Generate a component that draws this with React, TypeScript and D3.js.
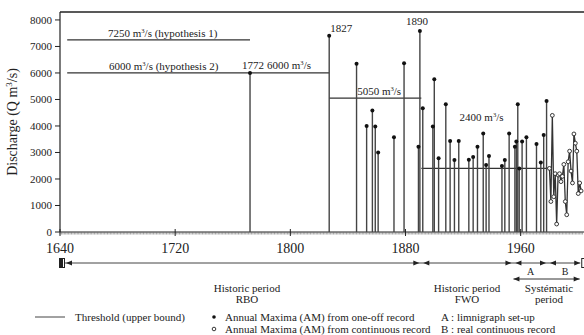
import React, { useEffect, useRef } from 'react';
import * as d3 from 'd3';

// One-off record annual maxima (historic floods)
const oneOffYears = [1772, 1827, 1846, 1853, 1857, 1859, 1861, 1872, 1879, 1889, 1890, 1892, 1899, 1900, 1903, 1908, 1911, 1914, 1917, 1924, 1927, 1930, 1934, 1936, 1938, 1947, 1949, 1952, 1956, 1957, 1958, 1959, 1961, 1964, 1971, 1974, 1976, 1978];
const oneOffValues = [6000, 7400, 6350, 4000, 4580, 3980, 3000, 3570, 6370, 3220, 7580, 4670, 3980, 5760, 2780, 4820, 3430, 2720, 3430, 2730, 2830, 3220, 3720, 2530, 2870, 2490, 2720, 3720, 3220, 3410, 4820, 2400, 3410, 3570, 3320, 2620, 3660, 4940];

// Continuous record annual maxima
const contYears = [1980, 1981, 1982, 1983, 1984, 1985, 1986, 1987, 1988, 1989, 1990, 1991, 1992, 1993, 1994, 1995, 1996, 1997, 1998, 1999, 2000, 2001, 2002];
const contValues = [2400, 1150, 4400, 1330, 2200, 300, 2150, 2200, 1900, 2100, 2550, 1150, 650, 2650, 3050, 2300, 1850, 3700, 3350, 3050, 1450, 1850, 1550];

// Perception thresholds
const thresholdValues = [7250, 6000, 5050, 2400];
const thresholdStart = [1645, 1645, 1827, 1891];
const thresholdEnd = [1772, 1827, 1891, 1980];

// Periods along the bottom time line
const periodBounds = [1640, 1891, 1955, 1979, 2000];

const yTicks = [0, 1000, 2000, 3000, 4000, 5000, 6000, 7000, 8000];
const xTicks = [1640, 1720, 1800, 1880, 1960];

const FONT = "'Liberation Serif', 'Times New Roman', serif";

const App = () => {
  const svgRef = useRef<SVGSVGElement | null>(null);

  useEffect(() => {
    if (!svgRef.current) return;
    const width = 584;
    const height = 335;
    const svg = d3.select(svgRef.current);
    svg.attr('width', width).attr('height', height);
    svg.selectAll('*').remove();

    const x = d3.scaleLinear().domain([1640, 2004]).range([60, 584]);
    const y = d3.scaleLinear().domain([0, 8300]).range([232, 12]);
    const ink = '#222';

    const txt = (px: number, py: number, s: string, size = 11, anchor = 'start') =>
      svg.append('text')
        .attr('x', px).attr('y', py)
        .attr('text-anchor', anchor)
        .attr('fill', ink)
        .style('font-family', FONT)
        .style('font-size', `${size}px`)
        .text(s);

    // "N m3/s" with superscript
    const flowLabel = (px: number, py: number, pre: string, post = '', size = 11, anchor = 'start') => {
      const t = svg.append('text')
        .attr('x', px).attr('y', py)
        .attr('text-anchor', anchor)
        .attr('fill', ink)
        .style('font-family', FONT)
        .style('font-size', `${size}px`);
      t.append('tspan').text(`${pre} m`);
      t.append('tspan').attr('dy', -4).style('font-size', `${size * 0.6}px`).text('3');
      t.append('tspan').attr('dy', 4).text(`/s${post}`);
      return t;
    };

    // frame: top line and left axis
    svg.append('line').attr('x1', 60).attr('x2', width).attr('y1', 12).attr('y2', 12)
      .attr('stroke', ink).attr('stroke-width', 1.6);
    svg.append('line').attr('x1', 60).attr('x2', 60).attr('y1', 12).attr('y2', y(0))
      .attr('stroke', ink).attr('stroke-width', 1.2);

    // y ticks
    yTicks.forEach(t => {
      svg.append('line').attr('x1', 55).attr('x2', 60).attr('y1', y(t)).attr('y2', y(t))
        .attr('stroke', ink).attr('stroke-width', 1);
      txt(52, y(t) + 4, String(t), 11, 'end');
    });

    // y label
    const yl = svg.append('text')
      .attr('transform', `translate(17,${(y(0) + y(8300)) / 2}) rotate(-90)`)
      .attr('text-anchor', 'middle')
      .attr('fill', ink)
      .style('font-family', FONT)
      .style('font-size', '14px');
    yl.append('tspan').text('Discharge (Q m');
    yl.append('tspan').attr('dy', -5).style('font-size', '9px').text('3');
    yl.append('tspan').attr('dy', 5).text('/s)');

    // x axis baseline with yearly minor ticks
    svg.append('line').attr('x1', 60).attr('x2', width).attr('y1', y(0)).attr('y2', y(0))
      .attr('stroke', ink).attr('stroke-width', 1.2);
    d3.range(1640, 2004).forEach(yr => {
      svg.append('line').attr('x1', x(yr)).attr('x2', x(yr)).attr('y1', y(0)).attr('y2', y(0) + 2.5)
        .attr('stroke', '#666').attr('stroke-width', 0.6);
    });
    xTicks.forEach(t => {
      svg.append('line').attr('x1', x(t)).attr('x2', x(t)).attr('y1', y(0) - 3).attr('y2', y(0) + 4)
        .attr('stroke', ink).attr('stroke-width', 1);
      txt(x(t), 253, String(t), 14, 'middle');
    });

    // thresholds
    thresholdValues.forEach((v, i) => {
      svg.append('line')
        .attr('x1', x(thresholdStart[i])).attr('x2', x(thresholdEnd[i]))
        .attr('y1', y(v)).attr('y2', y(v))
        .attr('stroke', '#333').attr('stroke-width', 1.2);
    });

    // one-off stems
    oneOffYears.forEach((yr, i) => {
      svg.append('line')
        .attr('x1', x(yr)).attr('x2', x(yr))
        .attr('y1', y(0)).attr('y2', y(oneOffValues[i]))
        .attr('stroke', '#444').attr('stroke-width', 1.4);
    });
    oneOffYears.forEach((yr, i) => {
      svg.append('circle').attr('cx', x(yr)).attr('cy', y(oneOffValues[i])).attr('r', 2)
        .attr('fill', '#111');
    });

    // continuous record
    const line = d3.line<number>()
      .x((_, i) => x(contYears[i]))
      .y(d => y(d));
    svg.append('path').datum(contValues).attr('d', line)
      .attr('fill', 'none').attr('stroke', '#333').attr('stroke-width', 1.3);
    contYears.forEach((yr, i) => {
      svg.append('circle').attr('cx', x(yr)).attr('cy', y(contValues[i])).attr('r', 1.9)
        .attr('fill', '#fff').attr('stroke', '#222').attr('stroke-width', 0.9);
    });

    // threshold / event annotations
    flowLabel(108, y(7250) - 3, '7250', '  (hypothesis 1)', 11);
    flowLabel(109, y(6000) - 3, '6000', '  (hypothesis 2)', 11);
    txt(x(1772) - 8, y(6000) - 4, '1772', 11);
    flowLabel(x(1772) + 17, y(6000) - 4, '6000', '', 11);
    txt(x(1827) + 1, y(7400) - 4, '1827', 11);
    txt(x(1890) - 3, y(7580) - 6, '1890', 11, 'middle');
    flowLabel(x(1827) + 28, y(5050) - 3, '5050', '', 11);
    flowLabel(x(1903) + 21, y(4200), '2400', '', 11);

    // bottom time line
    const tl = 263;
    svg.append('line').attr('x1', x(1640)).attr('x2', x(periodBounds[periodBounds.length - 1]) + 2)
      .attr('y1', tl).attr('y2', tl).attr('stroke', '#444').attr('stroke-width', 1);
    const arrow = (tip: number, dir: number, yy: number) => {
      svg.append('path')
        .attr('d', `M${tip},${yy} L${tip - dir * 6},${yy - 2.5} L${tip - dir * 6},${yy + 2.5} Z`)
        .attr('fill', ink);
    };
    svg.append('rect').attr('x', x(1640) - 1).attr('y', tl - 5).attr('width', 6).attr('height', 10).attr('fill', ink);
    svg.append('rect').attr('x', x(1640) + 3).attr('y', tl - 4).attr('width', 1).attr('height', 8).attr('fill', '#fff');
    arrow(x(1640) + 6, -1, tl);
    periodBounds.slice(1, -1).forEach(b => {
      arrow(x(b) - 2, 1, tl);
      arrow(x(b) + 2, -1, tl);
    });
    const endX = x(periodBounds[periodBounds.length - 1]);
    arrow(endX + 2, 1, tl);
    svg.append('rect').attr('x', endX + 3).attr('y', tl - 5).attr('width', 6).attr('height', 10).attr('fill', ink);
    svg.append('rect').attr('x', endX + 4).attr('y', tl - 4).attr('width', 4).attr('height', 8).attr('fill', '#fff');

    txt((x(periodBounds[2]) + x(periodBounds[3])) / 2, 275, 'A', 10, 'middle');
    txt((x(periodBounds[3]) + x(periodBounds[4])) / 2 + 2, 275, 'B', 10, 'middle');

    // systematic double arrow
    const sa = 279;
    const s1 = x(1955);
    const s2 = x(2001);
    svg.append('line').attr('x1', s1).attr('x2', s2).attr('y1', sa).attr('y2', sa)
      .attr('stroke', '#333').attr('stroke-width', 1);
    arrow(s1, -1, sa);
    arrow(s2, 1, sa);

    txt(247, 292, 'Historic period', 11, 'middle');
    txt(247, 303, 'RBO', 11, 'middle');
    txt(467, 292, 'Historic period', 11, 'middle');
    txt(467, 303, 'FWO', 11, 'middle');
    txt(549, 292, 'Systématic', 11, 'middle');
    txt(549, 303, 'period', 11, 'middle');

    // legend
    svg.append('line').attr('x1', 35).attr('x2', 65).attr('y1', 317).attr('y2', 317)
      .attr('stroke', '#444').attr('stroke-width', 1);
    txt(75, 320.5, 'Threshold (upper bound)', 11);
    svg.append('circle').attr('cx', 214).attr('cy', 317).attr('r', 1.8).attr('fill', '#111');
    txt(225, 320.5, 'Annual Maxima (AM) from one-off record', 11);
    svg.append('circle').attr('cx', 214).attr('cy', 329).attr('r', 1.8)
      .attr('fill', '#fff').attr('stroke', '#222').attr('stroke-width', 0.9);
    txt(225, 332.5, 'Annual Maxima (AM) from continuous record', 11);
    txt(441, 320.5, 'A : limnigraph set-up', 11);
    txt(441, 332.5, 'B : real continuous record', 11);
  }, []);

  return (
    <div>
      <svg ref={svgRef} style={{ position: 'fixed', left: 0, top: 0, background: '#fff' }}></svg>
    </div>
  );
};

export default App;
